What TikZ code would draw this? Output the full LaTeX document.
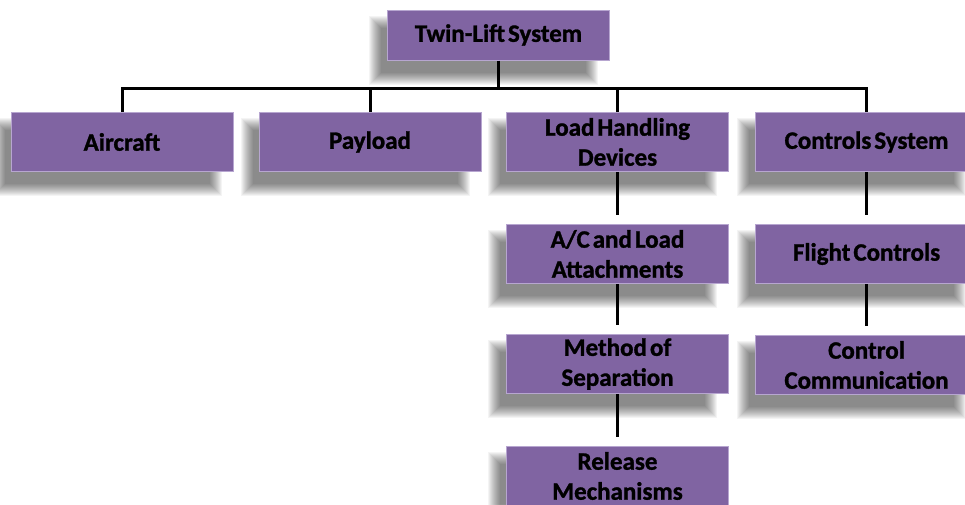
\documentclass[tikz,border=0pt]{standalone}
\usepackage{fontspec}
\setmainfont{Carlito}[BoldFont={Carlito Bold}, BoldFeatures={FakeBold=1.2}]
\usetikzlibrary{calc,backgrounds}
\definecolor{boxfill}{HTML}{8064A2}
\definecolor{boxedge}{HTML}{B7A6D0}
\newcommand\wsgap{\hspace{3pt}}
\begin{document}
\begin{tikzpicture}[x=1pt,y=-1pt,
  box/.style={draw=boxedge, line width=1pt, fill=boxfill, minimum width=222pt, minimum height=59pt,
    inner sep=0pt, align=center, text width=218pt,
    font=\fontsize{25}{30}\selectfont\bfseries},
  conn/.style={line width=3pt, black},
  shade/.style={fill=black, opacity=0.045}]
\useasboundingbox (0,0) rectangle (965,504);
\clip (0,0) rectangle (965,504);
\node[box, minimum height=50pt] (top) at (498.5,35) {Twin-Lift\wsgap System};
\node[box] (air) at (122,142) {Aircraft};
\node[box] (pay) at (370,142) {Payload};
\node[box] (lhd) at (617.5,142) {Load\wsgap Handling\\Devices};
\node[box] (ctl) at (866.5,142) {Controls\wsgap System};
\node[box] (att) at (617.5,254) {A/C\wsgap and\wsgap Load\\Attachments};
\node[box] (sep) at (617.5,364) {Method\wsgap of\\Separation};
\node[box] (rel) at (617.5,476) {Release\\Mechanisms};
\node[box] (fli) at (866.5,254) {Flight\wsgap Controls};
\node[box] (com) at (866.5,365) {Control\\Communication};
\begin{pgfonlayer}{background}
\fill[white] (0,0) rectangle (965,504);
\foreach \n in {top,air,pay,lhd,ctl,att,sep,rel,fli,com}{
  \foreach \i in {0,...,12}{
    \fill[shade] ($(\n.north west)+(-12-6+\i,12-6+\i)$) rectangle ($(\n.south east)+(-18+6-\i,18+6-\i)$);
  }
}
\end{pgfonlayer}
\coordinate (bar) at (498.5,88);
\draw[conn] (top.south) -- (bar);
\draw[conn] (air.north) |- (bar) -| (ctl.north);
\draw[conn] (pay.north) -- (pay.north |- bar);
\draw[conn] (lhd.north) -- (lhd.north |- bar);
\draw[conn, shorten >=9pt] (lhd.south) -- (att.north);
\draw[conn, shorten >=9pt] (att.south) -- (sep.north);
\draw[conn, shorten >=9pt] (sep.south) -- (rel.north);
\draw[conn, shorten >=9pt] (ctl.south) -- (fli.north);
\draw[conn, shorten >=9pt] (fli.south) -- (com.north);
\end{tikzpicture}
\end{document}
